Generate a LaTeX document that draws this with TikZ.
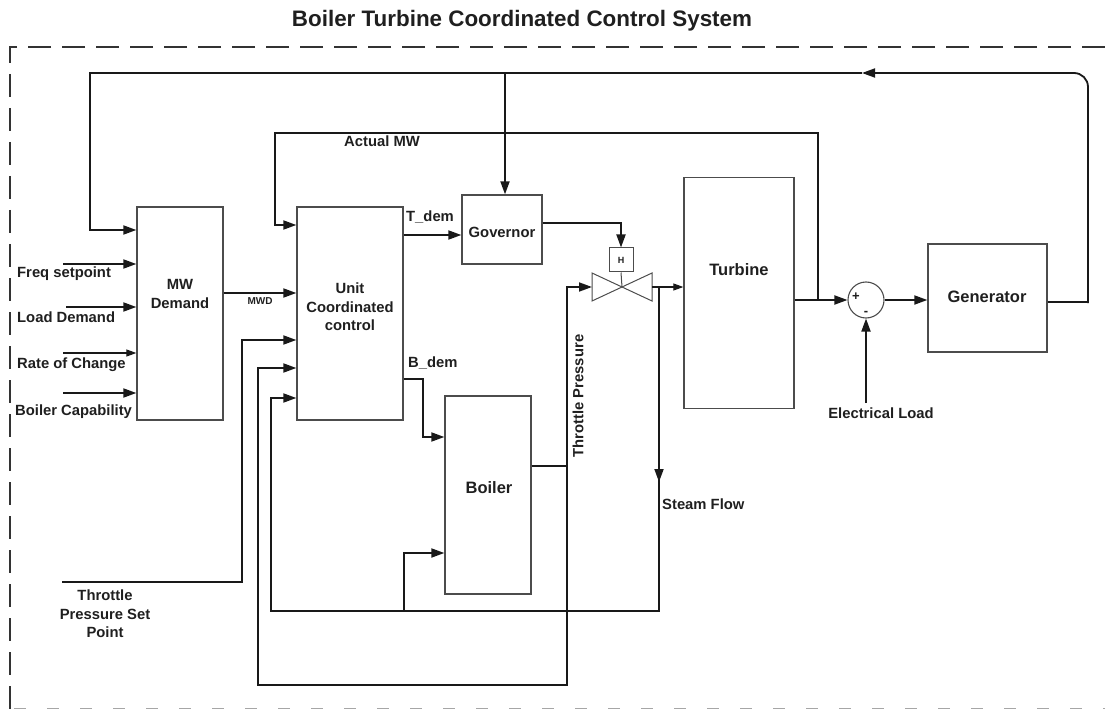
\documentclass[tikz,border=0pt]{standalone}
\usepackage{fontspec}
\setmainfont{Liberation Sans}
\usetikzlibrary{arrows.meta}
\begin{document}
\begin{tikzpicture}[x=1pt,y=-1pt,
  conn/.style={line width=1.8pt, draw=black!90},
  thinconn/.style={line width=1.1pt, draw=black!90},
  arr/.style={-{Triangle[length=13pt,width=9pt]}},
  sarr/.style={-{Triangle[length=10pt,width=7pt]}},
  box/.style={draw=black!70, line width=1.3pt, inner sep=0pt},
  valveline/.style={draw=black!70, line width=1pt},
  lbl/.style={font=\bfseries\fontsize{14.8}{18.5}\selectfont, inner sep=0pt, text=black!88},
  blbl/.style={font=\bfseries\fontsize{16.5}{19}\selectfont, inner sep=0pt, text=black!88},
  slbl/.style={font=\bfseries\fontsize{10}{12}\selectfont, inner sep=0pt, text=black!88},
  signlbl/.style={font=\bfseries\fontsize{13}{14}\selectfont, inner sep=0pt, text=black!88},
  border/.style={line width=1.6pt, draw=black!80, dash pattern=on 23pt off 11pt}
]
\useasboundingbox (0,0) rectangle (1105,711);

% title
\node[font=\bfseries\fontsize{22.4}{26}\selectfont, inner sep=0pt, anchor=base, text=black!88] (title) at (522,27) {Boiler Turbine Coordinated Control System};

% dashed frame
\draw[border] (1105,47) -- (10,47) -- (10,711);
\draw[line width=1pt, draw=black!35, dash pattern=on 12pt off 21pt] (14,708) -- (1105,708);

% blocks
\node[box, minimum width=86pt, minimum height=213pt] (mwd) at (180,313.5) {};
\node[lbl, align=center] (mwdtxt) at (180,294) {MW\\Demand};
\node[box, minimum width=106pt, minimum height=213pt] (ucc) at (350,313.5) {};
\node[lbl, align=center] (ucctxt) at (350,307) {Unit\\Coordinated\\control};
\node[box, minimum width=80pt, minimum height=69pt] (gov) at (502,229.5) {};
\node[lbl] (govtxt) at (502,232) {Governor};
\node[box, line width=1pt, minimum width=24pt, minimum height=24pt] (hv) at (621,260) {};
\node[slbl, font=\bfseries\fontsize{9}{10}\selectfont] (htxt) at (621,260) {H};
\node[box, minimum width=110pt, minimum height=231pt] (turb) at (739,293) {};
\node[blbl] (turbtxt) at (739,270) {Turbine};
\node[box, minimum width=86pt, minimum height=198pt] (boil) at (488,495) {};
\node[blbl] (boiltxt) at (489,488) {Boiler};
\node[draw=black!70, line width=1.1pt, circle, minimum size=36pt, inner sep=0pt] (sum) at (866,300) {};
\node[signlbl] (plus) at (856,297) {+};
\node[signlbl] (minus) at (866,313) {-};
\node[box, minimum width=119pt, minimum height=108pt] (gen) at (987.5,298) {};
\node[blbl] (gentxt) at (987,297) {Generator};

% valve
\coordinate (vc) at (622,287);
\coordinate (vl) at (592,287);
\coordinate (vr) at (652,287);
\draw[valveline] (592,273) -- (592,301) -- (vc) -- cycle;
\draw[valveline] (652,273) -- (652,301) -- (vc) -- cycle;
\draw[valveline] (hv.south) -- (vc);

% input labels and arrows
\coordinate (inf) at (63,264);
\coordinate (inl) at (66,307);
\coordinate (inr) at (63,353);
\coordinate (inb) at (63,393);
\node[lbl, anchor=base west] (lfreq) at (17,277) {Freq setpoint};
\node[lbl, anchor=base west] (lload) at (17,322) {Load Demand};
\node[lbl, anchor=base west] (lrate) at (17,368) {Rate of Change};
\node[lbl, anchor=base west] (lboil) at (15,415) {Boiler Capability};
\draw[conn, arr] (inf) -- (mwd.west |- inf);
\draw[conn, arr] (inl) -- (mwd.west |- inl);
\draw[thinconn, sarr] (inr) -- (mwd.west |- inr);
\draw[conn, arr] (inb) -- (mwd.west |- inb);

% top feedback loop from generator
\draw[conn] (gen.east |- 0,302) -- (1089,302);
\draw[conn, arr, rounded corners=14pt] (1088,303) -- (1088,73) -- (862,73);
\draw[conn, arr] (862,73) -- (90,73) -- (90,230) -- (mwd.west |- 0,230);
\draw[conn, arr] (505,73) -- (505,0 |- gov.north);

% Actual MW
\draw[conn, arr] (818,300) -- (818,133) -- (275,133) -- (275,225) -- (ucc.west |- 0,225);
\node[lbl, anchor=base] (lact) at (382,147) {Actual MW};

% MWD
\draw[conn, arr] (mwd.east |- 0,293) -- (ucc.west |- 0,293);
\node[slbl, anchor=base] (lmwd) at (260,305) {MWD};

% T_dem
\draw[conn, arr] (ucc.east |- 0,235) -- (gov.west |- 0,235);
\node[lbl, anchor=base west] (ltdem) at (406,222) {T\_dem};

% governor to valve actuator
\draw[conn, arr] (gov.east |- 0,223) -- (621,223) -- (hv.north);

% B_dem
\draw[conn, arr] (ucc.east |- 0,379) -- (423,379) -- (423,437) -- (boil.west |- 0,437);
\node[lbl, anchor=base west] (lbdem) at (408,367) {B\_dem};

% throttle pressure
\draw[conn, arr] (boil.east |- 0,466) -- (567,466) -- (567,287) -- (vl);
\draw[conn, arr] (567,466) -- (567,685) -- (258,685) -- (258,368) -- (ucc.west |- 0,368);
\node[lbl, rotate=90] (ltp) at (578,396) {Throttle Pressure};

% valve to turbine and steam flow
\draw[thinconn, sarr] (vr) -- (turb.west |- vr);
\draw[conn, arr] (659,287) -- (659,482);
\draw[conn, arr] (659,480) -- (659,611) -- (271,611) -- (271,398) -- (ucc.west |- 0,398);
\draw[conn, arr] (404,611) -- (404,553) -- (boil.west |- 0,553);
\node[lbl, anchor=base west] (lsteam) at (662,509) {Steam Flow};

% throttle pressure set point
\coordinate (tpsp) at (62,582);
\draw[conn, arr] (tpsp) -- (242,582) -- (242,340) -- (ucc.west |- 0,340);
\node[lbl, align=center] (ltpsp) at (105,614) {Throttle\\Pressure Set\\Point};

% turbine to summing junction to generator
\draw[conn, arr] (turb.east |- 0,300) -- (sum.west);
\draw[conn, arr] (sum.east) -- (gen.west |- sum.east);

% electrical load
\node[lbl, anchor=base] (lelec) at (881,418) {Electrical Load};
\draw[conn, arr] (866,403) -- (sum.south);
\end{tikzpicture}
\end{document}
